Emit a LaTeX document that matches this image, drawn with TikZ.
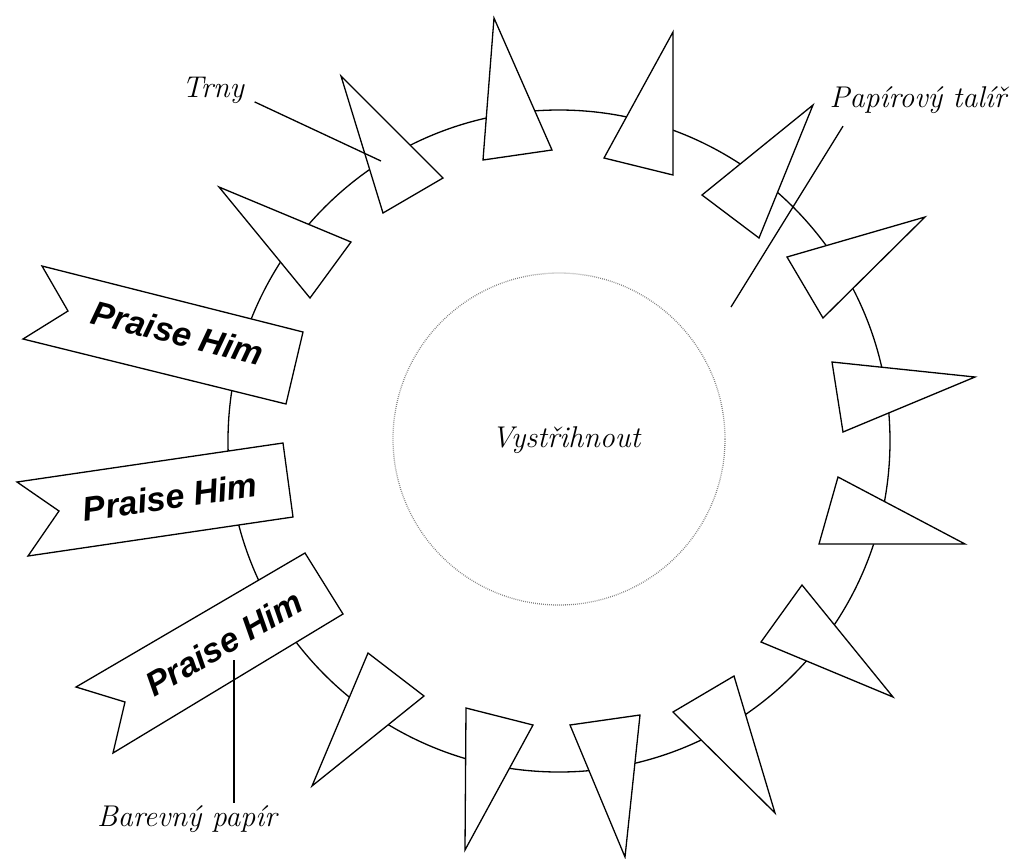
\documentclass[tikz,border=0pt]{standalone}
\usepackage{fontspec}
\newfontfamily\praisefont{Liberation Sans}
\usepackage{tikz}

\begin{document}
\begin{tikzpicture}[x=0.5pt, y=-0.5pt, line width=0.65pt,
  spike/.style={draw, fill=white, line join=miter},
  flag/.style={draw, fill=white, line join=miter},
  praise/.style={font=\praisefont\bfseries\itshape\fontsize{17}{17}\selectfont, inner sep=0pt},
  lbl/.style={font=\itshape\fontsize{15}{15}\selectfont, inner sep=1pt}]
  \useasboundingbox (0,0) rectangle (1013,858);
  % plate and the part to cut out
  \draw (559,441) circle[radius=331];
  \draw[gray, dash pattern=on 0.4pt off 0.6pt] (559,439) circle[radius=166];
  \node[lbl] (vystrih) at (566,440) {Vystřihnout};
  % thorns
  \foreach \ax/\ay/\bx/\by/\cx/\cy in {
      341/76/443/178/383/213, 219/187/351/242/310/298,
      494/18/552/150/483/160, 673/32/673/175/604/158,
      813/105/702/195/759/238, 925/217/787/257/823/318,
      975/377/832/362/843/432, 838/477/965/544/819/544,
      802/585/893/697/761/642, 734/676/775/813/673/712,
      640/715/625/857/570/725, 466/708/533/725/465/850,
      368/653/424/696/312/786}
    \draw[spike] (\ax,\ay) -- (\bx,\by) -- (\cx,\cy) -- cycle;
  % banners
  \draw[flag] (42,266) -- (303,332) -- (286,404) -- (23,339) -- (68,311) -- cycle;
  \draw[flag] (17,482) -- (283,443) -- (293,517) -- (28,556) -- (59,511) -- cycle;
  \draw[flag] (76,687) -- (305,553) -- (343,614) -- (113,753) -- (125,702) -- cycle;
  \node[praise, rotate=-14.2] (praise1) at (178,333) {Praise Him};
  \node[praise, rotate=8.3] (praise2) at (170,497) {Praise Him};
  \node[praise, rotate=30.3] (praise3) at (224,643) {Praise Him};
  % labels
  \node[lbl] (trny) at (213,90) {Trny};
  \node[lbl] (talir) at (918,100) {Papírový talíř};
  \node[lbl] (barevny) at (187,819) {Barevný papír};
  \coordinate (trnyend) at (381,161);
  \coordinate (talirend) at (731,307);
  \coordinate (barevnyend) at (234,660);
  \draw ([xshift=4pt,yshift=2pt]trny.south east) -- (trnyend);
  \draw ([xshift=8pt,yshift=-5pt]talir.south west) -- (talirend);
  \draw (barevny.north -| barevnyend) -- (barevnyend);
\end{tikzpicture}
\end{document}
